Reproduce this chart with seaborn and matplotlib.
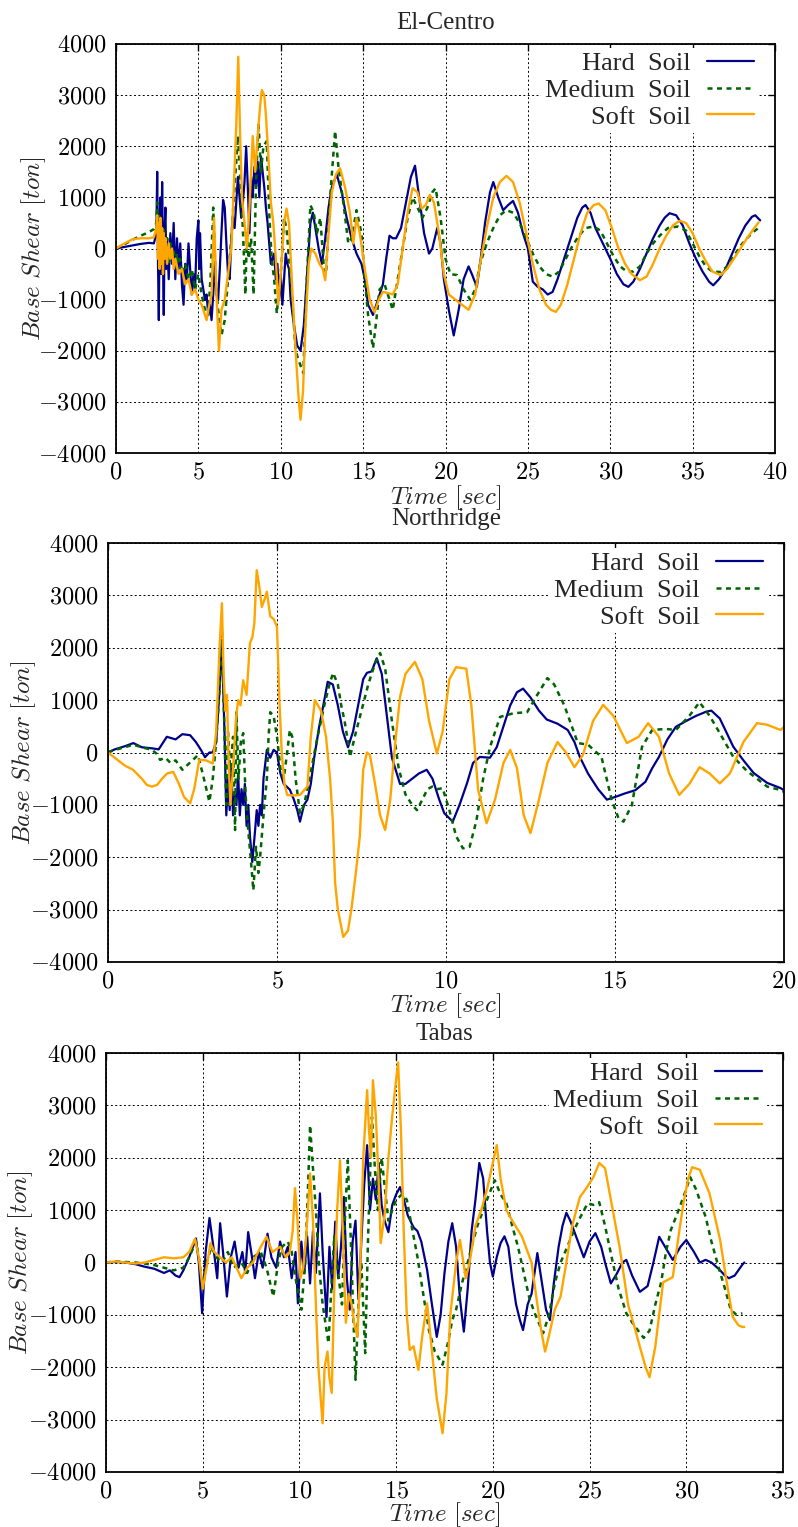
import matplotlib
matplotlib.use("Agg")
import matplotlib.pyplot as plt
import seaborn as sns
import pandas as pd
from matplotlib.ticker import FuncFormatter, MultipleLocator

# ---------------- data (time [s], base shear [ton]) ----------------
EC_HARD = [(0,0),(0.5,30),(1.0,60),(1.5,90),(2.0,110),(2.3,100),(2.45,300),(2.5,1500),(2.55,-300),(2.6,-1400),(2.65,600),(2.7,1000),(2.75,-500),(2.8,1300),(2.85,-200),(2.9,-1300),(2.95,400),(3.0,800),(3.05,-400),(3.1,200),(3.2,-600),(3.3,300),(3.4,-300),(3.5,500),(3.6,-600),(3.7,200),(3.8,-400),(3.9,100),(4.0,-700),(4.1,-1100),(4.2,-300),(4.3,-600),(4.4,100),(4.5,-400),(4.6,-900),(4.7,-500),(4.8,-800),(4.9,200),(5.0,550),(5.05,-400),(5.1,300),(5.2,-600),(5.3,-800),(5.4,-1000),(5.5,-900),(5.6,-1300),(5.7,-1100),(5.8,-1400),(5.9,-900),(6.0,-300),(6.1,-900),(6.2,-1000),(6.3,-400),(6.4,300),(6.5,950),(6.6,800),(6.7,100),(6.8,-500),(6.9,-600),(7.0,200),(7.1,600),(7.2,400),(7.3,900),(7.4,1400),(7.5,1000),(7.6,600),(7.7,900),(7.8,1300),(7.9,2000),(8.0,1200),(8.1,300),(8.2,1400),(8.3,1000),(8.4,1600),(8.5,1200),(8.6,1700),(8.7,1000),(8.8,1800),(8.9,1500),(9.0,1200),(9.1,800),(9.2,500),(9.3,100),(9.4,-300),(9.5,-200),(9.6,-100),(9.7,-600),(9.8,-300),(9.9,-1000),(10.0,-500),(10.1,-1100),(10.2,-600),(10.3,-100),(10.4,-300),(10.5,-400),(10.6,-1000),(10.8,-1500),(11.0,-1900),(11.2,-2000),(11.4,-1500),(11.6,-500),(11.8,500),(11.95,700),(12.1,400),(12.3,0),(12.5,-300),(12.7,200),(12.9,800),(13.1,1200),(13.4,1450),(13.7,1100),(14.0,600),(14.3,200),(14.6,-100),(14.9,-300),(15.1,-600),(15.3,-1100),(15.6,-1300),(15.9,-1000),(16.2,-700),(16.4,-200),(16.6,250),(16.8,200),(17.0,200),(17.3,400),(17.6,900),(17.9,1400),(18.15,1620),(18.4,1000),(18.7,300),(19.0,-100),(19.2,0),(19.5,400),(19.7,100),(19.9,-600),(20.2,-1200),(20.5,-1700),(20.8,-1200),(21.1,-600),(21.4,-350),(21.6,-500),(21.9,-750),(22.1,-300),(22.4,500),(22.7,1100),(22.9,1300),(23.2,1000),(23.5,750),(23.8,850),(24.1,930),(24.4,700),(24.7,300),(25.0,0),(25.3,-650),(25.6,-750),(25.9,-800),(26.2,-900),(26.5,-850),(26.8,-600),(27.1,-300),(27.4,0),(27.7,300),(28.0,600),(28.3,800),(28.5,850),(28.8,700),(29.1,400),(29.4,200),(29.7,0),(30.0,-200),(30.4,-500),(30.8,-700),(31.1,-750),(31.4,-650),(31.8,-400),(32.2,-100),(32.6,200),(33.0,450),(33.3,600),(33.6,690),(34.0,650),(34.4,450),(34.8,100),(35.2,-200),(35.6,-450),(36.0,-650),(36.25,-720),(36.6,-600),(37.0,-400),(37.4,-100),(37.8,200),(38.2,450),(38.6,620),(38.8,650),(39.1,550)]

EC_MED = [(0,0),(0.5,80),(1.0,170),(1.5,250),(2.0,320),(2.3,380),(2.45,500),(2.5,900),(2.55,300),(2.6,700),(2.65,200),(2.7,600),(2.8,100),(2.9,400),(3.0,-100),(3.1,200),(3.2,-300),(3.3,100),(3.4,-200),(3.5,0),(3.6,-400),(3.7,-100),(3.8,-300),(3.9,-200),(4.0,-500),(4.2,-300),(4.4,-600),(4.6,-400),(4.8,-800),(5.0,-500),(5.2,-900),(5.4,-1200),(5.6,-1300),(5.75,-500),(5.9,800),(6.05,-600),(6.2,-1200),(6.4,-1700),(6.6,-1400),(6.8,-600),(7.0,200),(7.2,1200),(7.4,2200),(7.55,1300),(7.7,400),(7.85,-900),(7.95,300),(8.05,-200),(8.2,200),(8.35,-900),(8.5,1300),(8.65,2450),(8.8,1500),(8.95,2000),(9.15,2100),(9.3,700),(9.45,-200),(9.6,-600),(9.76,-1270),(9.9,-800),(10.05,-300),(10.2,600),(10.35,400),(10.5,-200),(10.7,-1000),(10.9,-2000),(11.1,-2200),(11.37,-2440),(11.55,-800),(11.8,850),(12.0,700),(12.2,300),(12.4,600),(12.6,-300),(12.75,-500),(12.95,800),(13.3,2300),(13.5,1600),(13.8,900),(14.1,100),(14.3,200),(14.6,750),(14.9,300),(15.1,-600),(15.3,-1300),(15.6,-1950),(15.8,-1400),(16.0,-800),(16.3,-700),(16.6,-1000),(16.8,-1200),(17.1,-600),(17.4,0),(17.7,600),(18.0,1000),(18.3,800),(18.6,600),(18.9,800),(19.2,1100),(19.4,1180),(19.7,600),(20.0,-200),(20.3,-500),(20.7,-520),(21.1,-800),(21.5,-1000),(21.8,-800),(22.1,-300),(22.5,100),(22.9,400),(23.3,650),(23.7,750),(24.1,700),(24.5,500),(24.9,200),(25.3,-100),(25.7,-350),(26.1,-500),(26.5,-550),(26.9,-450),(27.3,-200),(27.7,50),(28.1,250),(28.5,400),(29.0,430),(29.4,350),(29.8,100),(30.2,-150),(30.6,-350),(31.0,-450),(31.4,-450),(31.8,-350),(32.2,-100),(32.6,100),(33.0,250),(33.5,400),(34.1,430),(34.6,350),(35.0,100),(35.4,-150),(35.8,-350),(36.2,-450),(36.7,-460),(37.1,-350),(37.5,-150),(37.9,50),(38.3,200),(38.7,330),(39.0,400)]

EC_SOFT = [(0,0),(0.3,60),(0.7,130),(1.0,180),(1.5,200),(2.0,200),(2.3,220),(2.45,400),(2.5,650),(2.55,-200),(2.6,500),(2.65,-400),(2.7,600),(2.75,-300),(2.8,400),(2.85,-500),(2.9,300),(2.95,-200),(3.0,200),(3.1,-300),(3.2,100),(3.3,-200),(3.4,0),(3.5,-400),(3.6,-200),(3.8,-500),(4.0,-400),(4.2,-700),(4.4,-600),(4.6,-900),(4.8,-800),(5.0,-1000),(5.2,-1100),(5.4,-1300),(5.5,-1400),(5.6,-1200),(5.8,-900),(5.95,600),(6.1,-900),(6.25,-2000),(6.4,-1200),(6.6,-1000),(6.8,-500),(7.0,0),(7.15,1200),(7.3,2400),(7.42,3750),(7.55,2000),(7.65,1000),(7.8,500),(7.95,0),(8.1,800),(8.3,2200),(8.45,1500),(8.6,2200),(8.75,2800),(8.85,3100),(9.0,3000),(9.1,2600),(9.25,1800),(9.4,900),(9.55,500),(9.7,-200),(9.85,-1100),(10.0,-500),(10.2,500),(10.35,780),(10.5,500),(10.7,-800),(10.9,-2000),(11.1,-3000),(11.2,-3350),(11.35,-2800),(11.5,-1500),(11.7,-300),(11.85,0),(12.1,-100),(12.35,-300),(12.55,-400),(12.7,-620),(12.9,300),(13.1,1100),(13.35,1450),(13.6,1570),(13.9,1200),(14.2,700),(14.4,100),(14.6,590),(14.8,300),(15.1,-400),(15.4,-1000),(15.7,-1250),(15.95,-1000),(16.2,-850),(16.5,-870),(16.8,-900),(17.1,-700),(17.4,0),(17.7,700),(18.0,1180),(18.3,1100),(18.55,780),(18.8,850),(19.05,1050),(19.3,900),(19.6,300),(19.9,-500),(20.2,-900),(20.6,-1000),(21.0,-1100),(21.4,-1200),(21.8,-900),(22.1,-300),(22.5,400),(22.9,1000),(23.3,1300),(23.7,1420),(24.1,1300),(24.5,900),(24.9,300),(25.3,-300),(25.7,-800),(26.1,-1100),(26.4,-1200),(26.7,-1240),(27.0,-1100),(27.4,-700),(27.8,-200),(28.2,300),(28.6,700),(29.0,850),(29.3,880),(29.7,750),(30.1,400),(30.5,0),(30.9,-300),(31.3,-500),(31.8,-620),(32.2,-550),(32.6,-300),(33.0,0),(33.4,250),(33.8,450),(34.2,540),(34.6,500),(35.0,300),(35.4,0),(35.8,-250),(36.2,-450),(36.7,-520),(37.1,-400),(37.5,-200),(37.9,0),(38.3,200),(38.7,380),(39.0,510)]

NR_HARD = [(0,0),(0.2,60),(0.5,120),(0.75,180),(1.0,100),(1.3,80),(1.5,60),(1.74,300),(2.0,250),(2.2,350),(2.43,330),(2.6,200),(2.75,50),(2.87,-90),(3.0,0),(3.1,0),(3.2,200),(3.3,1200),(3.37,2150),(3.45,300),(3.5,-1200),(3.55,-500),(3.6,-1100),(3.65,-300),(3.7,-1200),(3.75,-800),(3.8,-1000),(3.85,-400),(3.9,-1200),(3.95,-700),(4.0,-1000),(4.05,-600),(4.1,-1400),(4.15,-1000),(4.2,-1600),(4.27,-2090),(4.35,-1500),(4.4,-1100),(4.45,-1400),(4.5,-1000),(4.55,-1200),(4.6,-500),(4.7,50),(4.8,-100),(4.9,50),(5.0,0),(5.1,-400),(5.2,-600),(5.38,-710),(5.5,-900),(5.6,-1100),(5.68,-1320),(5.8,-1000),(5.9,-900),(6.0,-600),(6.1,-100),(6.25,500),(6.4,1000),(6.5,1350),(6.65,1300),(6.8,900),(6.95,400),(7.1,100),(7.25,400),(7.4,900),(7.55,1400),(7.66,1520),(7.8,1550),(7.95,1800),(8.1,1500),(8.25,700),(8.4,-100),(8.64,-600),(8.8,-600),(9.0,-500),(9.2,-400),(9.43,-330),(9.6,-500),(9.8,-900),(9.95,-1160),(10.2,-1320),(10.4,-1000),(10.62,-590),(10.8,-200),(11.0,-85),(11.3,-100),(11.5,100),(11.7,500),(11.9,900),(12.1,1150),(12.28,1220),(12.5,1050),(12.75,800),(12.98,630),(13.3,550),(13.6,430),(13.8,200),(13.96,-85),(14.2,-400),(14.5,-700),(14.76,-900),(15.0,-850),(15.3,-780),(15.6,-720),(15.9,-560),(16.1,-300),(16.3,-85),(16.55,250),(16.8,490),(17.1,600),(17.4,700),(17.7,780),(17.85,800),(18.1,650),(18.5,110),(18.8,-150),(19.1,-390),(19.5,-580),(19.9,-680),(20.0,-720)]

NR_MED = [(0,0),(0.2,50),(0.5,100),(0.75,150),(1.0,100),(1.3,50),(1.45,-30),(1.54,-140),(1.7,-100),(1.85,-200),(2.0,-150),(2.2,-330),(2.33,-250),(2.5,-150),(2.66,-50),(2.8,-400),(3.0,-940),(3.1,-500),(3.2,200),(3.3,1200),(3.37,2340),(3.43,800),(3.5,-1000),(3.55,400),(3.62,-400),(3.7,300),(3.76,-1480),(3.8,770),(3.86,-500),(3.93,200),(4.0,370),(4.07,-800),(4.15,-1500),(4.22,-2000),(4.3,-2630),(4.38,-1800),(4.45,-2300),(4.5,-2000),(4.6,-1200),(4.7,-500),(4.75,300),(4.8,770),(4.9,700),(5.0,300),(5.1,-300),(5.2,-500),(5.3,0),(5.38,430),(5.45,300),(5.55,-500),(5.68,-1160),(5.8,-1000),(5.9,-700),(6.05,-200),(6.2,300),(6.4,900),(6.55,1300),(6.66,1520),(6.8,1300),(6.9,900),(7.0,600),(7.1,200),(7.16,-85),(7.3,300),(7.5,800),(7.7,1300),(7.9,1700),(8.05,1900),(8.2,1600),(8.4,600),(8.6,-300),(8.8,-800),(9.0,-1000),(9.14,-1100),(9.3,-900),(9.45,-700),(9.6,-650),(9.75,-700),(9.9,-680),(10.1,-1100),(10.3,-1600),(10.5,-1830),(10.7,-1800),(10.9,-1300),(11.1,-500),(11.3,100),(11.6,680),(12.0,750),(12.4,770),(12.7,1100),(13.0,1420),(13.2,1300),(13.5,900),(13.9,180),(14.2,150),(14.6,-85),(14.9,-900),(15.1,-1250),(15.25,-1320),(15.5,-1000),(15.8,110),(16.1,430),(16.5,450),(16.8,430),(17.2,700),(17.5,960),(17.8,700),(18.1,370),(18.5,-85),(18.9,-350),(19.2,-500),(19.5,-650),(19.8,-700),(20.0,-750)]

NR_SOFT = [(0,0),(0.3,-150),(0.5,-250),(0.74,-330),(1.0,-500),(1.15,-620),(1.3,-650),(1.45,-620),(1.6,-500),(1.75,-400),(1.93,-370),(2.1,-600),(2.25,-850),(2.43,-970),(2.55,-700),(2.7,-140),(2.9,-150),(3.1,-210),(3.2,400),(3.3,2000),(3.37,2850),(3.42,1500),(3.47,800),(3.52,1100),(3.57,-200),(3.62,-1000),(3.7,-300),(3.78,600),(3.85,1000),(3.92,900),(4.0,1380),(4.1,1100),(4.2,2090),(4.27,2200),(4.33,2470),(4.4,3480),(4.47,3200),(4.55,2780),(4.62,2900),(4.7,3070),(4.8,2600),(4.9,2550),(5.0,2400),(5.07,1000),(5.14,0),(5.22,-600),(5.3,-810),(5.5,-820),(5.68,-810),(5.9,-650),(6.0,300),(6.12,1000),(6.3,800),(6.45,300),(6.57,-500),(6.65,-1300),(6.72,-2490),(6.8,-3000),(6.96,-3520),(7.1,-3400),(7.2,-3000),(7.35,-2200),(7.45,-1600),(7.55,-330),(7.66,0),(7.75,-50),(7.9,-600),(8.05,-1200),(8.2,-1480),(8.35,-900),(8.5,200),(8.64,1060),(8.8,1500),(9.08,1730),(9.3,1400),(9.5,600),(9.73,-20),(9.9,400),(10.1,1400),(10.3,1630),(10.6,1600),(10.75,900),(10.95,-710),(11.2,-1350),(11.45,-900),(11.7,-200),(11.9,50),(12.1,-300),(12.3,-1200),(12.5,-1540),(12.75,-900),(13.0,-200),(13.3,200),(13.55,0),(13.8,-280),(14.05,-50),(14.35,600),(14.65,910),(14.95,700),(15.35,180),(15.7,300),(15.98,560),(16.3,300),(16.6,-400),(16.9,-810),(17.2,-600),(17.5,-280),(17.8,-400),(18.1,-590),(18.4,-400),(18.8,200),(19.2,560),(19.5,530),(19.9,430),(20.0,490)]

TB_HARD = [(0,0),(0.5,10),(1.0,0),(1.5,-30),(2.0,-80),(2.5,-120),(3.0,-200),(3.3,-150),(3.6,-250),(3.8,-280),(4.0,-150),(4.3,100),(4.65,460),(4.8,0),(4.97,-970),(5.15,200),(5.35,850),(5.55,300),(5.75,-300),(5.9,750),(6.05,200),(6.25,-650),(6.45,100),(6.65,400),(6.85,-100),(7.05,200),(7.2,-200),(7.35,580),(7.55,100),(7.7,-300),(7.9,200),(8.1,-100),(8.35,550),(8.55,100),(8.8,-100),(9.0,400),(9.2,100),(9.4,300),(9.6,-300),(9.8,200),(9.92,-780),(10.1,400),(10.25,-200),(10.4,500),(10.55,-400),(10.7,600),(10.85,-200),(11.06,1320),(11.2,200),(11.4,-1040),(11.55,300),(11.7,-500),(11.85,780),(12.0,-300),(12.15,300),(12.3,1250),(12.45,-300),(12.6,-900),(12.75,400),(12.9,800),(13.05,-700),(13.2,400),(13.35,1500),(13.5,2240),(13.65,1000),(13.8,1600),(13.95,1200),(14.1,1900),(14.25,1100),(14.4,800),(14.6,580),(14.8,1100),(15.0,1300),(15.2,1440),(15.4,1200),(15.6,900),(15.9,670),(16.1,600),(16.3,400),(16.6,-140),(16.85,-800),(17.1,-1420),(17.3,-1000),(17.5,-200),(17.7,400),(17.9,750),(18.1,300),(18.3,-700),(18.5,-1320),(18.7,-500),(18.9,600),(19.1,1200),(19.3,1900),(19.5,1600),(19.7,600),(19.85,0),(20.0,-270),(20.2,100),(20.4,370),(20.6,500),(20.8,300),(21.0,-300),(21.2,-800),(21.4,-1100),(21.56,-1290),(21.8,-800),(22.0,-600),(22.3,180),(22.5,-300),(22.75,-900),(22.95,-1100),(23.15,-400),(23.4,300),(23.6,700),(23.8,950),(24.0,800),(24.3,500),(24.7,100),(25.0,400),(25.3,560),(25.6,300),(25.8,0),(26.1,-400),(26.4,-220),(26.7,0),(26.9,50),(27.2,-250),(27.6,-560),(28.0,-450),(28.3,0),(28.6,490),(28.9,300),(29.3,50),(29.7,300),(30.0,430),(30.4,200),(30.7,0),(31.0,50),(31.3,0),(31.7,-130),(32.0,-250),(32.2,-300),(32.5,-250),(32.9,-40),(33.0,0)]

TB_MED = [(0,0),(0.5,20),(1.0,10),(1.5,0),(2.0,-20),(2.5,-50),(3.0,-100),(3.5,-150),(4.0,-100),(4.3,100),(4.65,400),(4.8,100),(5.0,-500),(5.2,0),(5.45,300),(5.7,100),(6.0,0),(6.3,200),(6.6,-100),(7.0,0),(7.3,-200),(7.6,100),(8.0,200),(8.3,-100),(8.65,-650),(8.9,0),(9.1,300),(9.4,400),(9.6,200),(9.8,-300),(10.1,-900),(10.3,0),(10.45,1500),(10.55,2620),(10.7,1800),(10.85,1000),(11.0,0),(11.2,-800),(11.5,-1540),(11.65,-500),(11.8,500),(12.0,-200),(12.2,-800),(12.35,800),(12.5,1950),(12.65,500),(12.9,-2240),(13.05,-800),(13.2,0),(13.4,-1730),(13.55,500),(13.75,2780),(13.9,1800),(14.05,1000),(14.25,2000),(14.45,1300),(14.6,800),(14.8,1000),(15.0,1200),(15.3,1300),(15.55,1200),(15.8,700),(16.1,110),(16.4,-600),(16.7,-1300),(17.0,-1700),(17.4,-1950),(17.7,-1500),(17.9,-1100),(18.1,-900),(18.4,-400),(18.7,0),(18.9,300),(19.2,700),(19.5,1000),(19.8,1300),(20.1,1570),(20.4,1300),(20.7,1130),(21.0,700),(21.3,300),(21.6,-200),(21.9,-700),(22.2,-1000),(22.6,-1350),(22.9,-1000),(23.2,-400),(23.5,0),(23.85,300),(24.2,620),(24.5,850),(24.9,1130),(25.2,1100),(25.5,1150),(25.8,700),(26.2,0),(26.5,-500),(26.9,-970),(27.3,-1200),(27.8,-1440),(28.1,-1300),(28.4,-800),(28.7,-380),(28.95,200),(29.2,620),(29.5,900),(29.9,1300),(30.2,1630),(30.5,1400),(31.0,870),(31.3,400),(31.7,-130),(32.0,-500),(32.3,-900),(32.6,-1000),(32.9,-970)]

TB_SOFT = [(0,0),(0.5,20),(1.0,0),(1.5,-20),(2.0,0),(2.5,50),(3.0,100),(3.5,80),(4.0,100),(4.3,200),(4.6,450),(4.8,100),(5.0,-500),(5.2,-100),(5.4,370),(5.6,200),(5.9,100),(6.2,0),(6.5,100),(7.0,-300),(7.3,-100),(7.6,0),(8.0,300),(8.3,490),(8.6,200),(9.0,300),(9.3,100),(9.5,200),(9.65,600),(9.77,1420),(9.9,800),(10.05,-300),(10.2,-100),(10.35,500),(10.55,1700),(10.7,800),(10.85,-800),(10.97,-1930),(11.1,-2600),(11.2,-3070),(11.3,-2000),(11.45,-1700),(11.55,-2200),(11.67,-2490),(11.8,-500),(11.95,1000),(12.1,1950),(12.25,500),(12.4,-1150),(12.55,-600),(12.7,-800),(12.85,-1200),(13.0,-1420),(13.15,0),(13.3,2000),(13.5,3290),(13.6,2500),(13.7,2000),(13.8,3480),(13.95,2800),(14.1,1500),(14.2,370),(14.4,900),(14.6,2000),(14.8,2800),(15.0,3500),(15.1,3820),(15.25,2500),(15.4,500),(15.55,-1000),(15.7,-1670),(15.9,-1600),(16.15,-2050),(16.35,-1400),(16.6,-780),(16.85,-1700),(17.1,-2600),(17.4,-3260),(17.6,-2500),(17.8,-1000),(18.1,0),(18.3,430),(18.6,-300),(18.8,0),(19.1,700),(19.4,1000),(19.7,1400),(20.0,1900),(20.2,2240),(20.4,1600),(20.7,1000),(21.0,800),(21.5,500),(22.0,0),(22.3,-800),(22.5,-1300),(22.7,-1700),(22.9,-1400),(23.2,-900),(23.5,-650),(23.8,0),(24.1,700),(24.5,1250),(24.8,1400),(25.2,1630),(25.5,1900),(25.8,1800),(26.2,1000),(26.55,300),(27.0,-820),(27.3,-1200),(27.6,-1610),(27.9,-2000),(28.1,-2190),(28.4,-1600),(28.8,-380),(29.3,-280),(29.6,500),(29.85,1130),(30.1,1600),(30.3,1820),(30.7,1770),(31.2,1320),(31.75,430),(32.1,-400),(32.4,-1040),(32.7,-1200),(32.9,-1230),(33.0,-1230)]

TITLES = ["El-Centro", "Northridge", "Tabas"]
SERIES_NAMES = ["Hard  Soil", "Medium  Soil", "Soft  Soil"]
X_MAX = [40, 20, 35]
Y_TICKS = [-4000, -3000, -2000, -1000, 0, 1000, 2000, 3000, 4000]

PANELS = [(EC_HARD, EC_MED, EC_SOFT), (NR_HARD, NR_MED, NR_SOFT), (TB_HARD, TB_MED, TB_SOFT)]

# ---------------- style ----------------
sns.set_theme(style="white")
plt.rcParams["font.family"] = ["Liberation Serif", "DejaVu Serif"]
plt.rcParams["mathtext.fontset"] = "cm"
plt.rcParams["axes.unicode_minus"] = True

COLORS = ["#00008B", "#006400", "#FFA500"]
STYLES = ["-", (0, (2.0, 1.8)), "-"]
WIDTHS = [1.6, 1.8, 1.7]

fig = plt.figure(figsize=(7.98, 15.27), dpi=100)
W, H = 798.0, 1527.0
# axes boxes in pixels (left, top, right, bottom)
BOXES = [(116, 44, 775, 453), (108, 543, 784, 962), (106, 1053, 783, 1472)]
TITLE_PAD = [11, 13, 9]
LEG_ANCHOR = [(758, 48), (767, 548), (766, 1058)]
XLAB_Y = [-0.073, -0.07, -0.067]
YLAB_X = [48, 38, 35]

fmt = FuncFormatter(lambda v, p: r"$%d$" % v)

for i, (box, series) in enumerate(zip(BOXES, PANELS)):
    l, t, r, b = box
    ax = fig.add_axes([l / W, 1 - b / H, (r - l) / W, (b - t) / H])
    for name, data, c, ls, lw in zip(SERIES_NAMES, series, COLORS, STYLES, WIDTHS):
        df = pd.DataFrame(data, columns=["t", "v"])
        sns.lineplot(data=df, x="t", y="v", ax=ax, color=c, linestyle=ls, lw=lw,
                     label=name, estimator=None, sort=False)
    ax.set_xlim(0, X_MAX[i])
    ax.set_ylim(-4000, 4000)
    ax.xaxis.set_major_locator(MultipleLocator(5))
    ax.set_yticks(Y_TICKS)
    ax.xaxis.set_major_formatter(fmt)
    ax.yaxis.set_major_formatter(fmt)
    ax.grid(True, color="black", linestyle=(0, (2, 2.5)), linewidth=0.7)
    ax.set_axisbelow(True)
    for s in ax.spines.values():
        s.set_color("black")
        s.set_linewidth(1.3)
    ax.tick_params(direction="in", top=True, right=True, length=5, width=1,
                   labelsize=17.5, pad=7, colors="black")
    ax.set_title(TITLES[i], fontsize=18, pad=TITLE_PAD[i], family="Liberation Serif")
    ax.set_xlabel(r"$Time\ [sec]$", fontsize=18)
    ax.set_ylabel(r"$Base\ Shear\ [ton]$", fontsize=18)
    ax.xaxis.set_label_coords(0.5, XLAB_Y[i])
    ax.yaxis.set_label_coords((YLAB_X[i] - l) / (r - l), 0.5)
    ax_x, ax_y = LEG_ANCHOR[i]
    leg = ax.legend(loc="upper right",
                    bbox_to_anchor=((ax_x - l) / (r - l), 1 - (ax_y - t) / (b - t)),
                    borderaxespad=0, markerfirst=False, frameon=True, fancybox=False,
                    framealpha=1, facecolor="white", edgecolor="none",
                    fontsize=19, labelspacing=0.12, handlelength=1.8,
                    handletextpad=0.6, borderpad=0.15)

fig.savefig("out.png", dpi=100)
